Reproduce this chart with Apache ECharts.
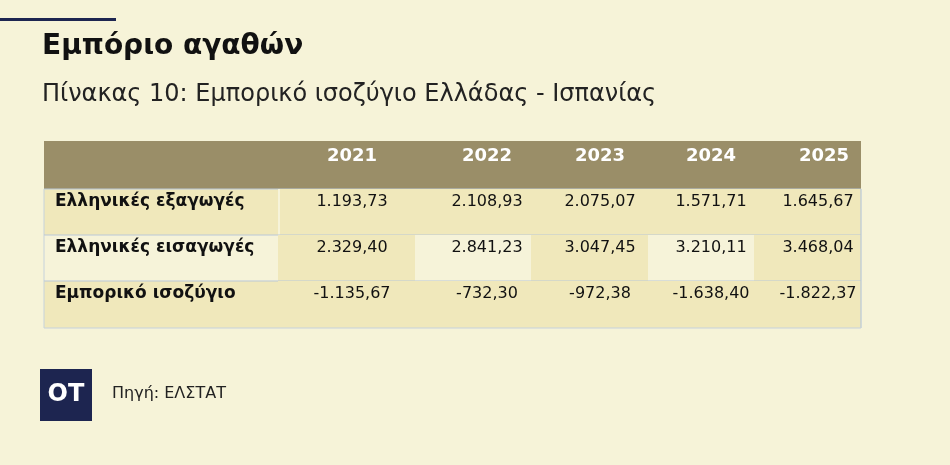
<!DOCTYPE html><html><head><meta charset="utf-8"><script src="https://cdn.jsdelivr.net/npm/echarts@6/dist/echarts.min.js"></script>
<style>html,body{margin:0;background:#f6f3d8}#c{width:950px;height:465px}</style></head><body><div id="c"></div><script>
const years=['2021','2022','2023','2024','2025'];
const rowLabels=['Ελληνικές εξαγωγές','Ελληνικές εισαγωγές','Εμπορικό ισοζύγιο'];
const exportsV=['1.193,73','2.108,93','2.075,07','1.571,71','1.645,67'];
const importsV=['2.329,40','2.841,23','3.047,45','3.210,11','3.468,04'];
const balanceV=['-1.135,67','-732,30','-972,38','-1.638,40','-1.822,37'];
const rows=[exportsV,importsV,balanceV];
// layout (pixels relative to table)
const edges=[0,234,371,487,604,710,817];
const centers=[308,443,556,667,774];
const rowTops=[0,48,94,140,187];
const DARK='#f0e8bb',LIGHT='#f6f3d9',HEAD='#9a8e68';
const F='"DejaVu Sans",sans-serif';
const data=[];
data.push({type:'head'});
rows.forEach((r,ri)=>{data.push({type:'label',r:ri});r.forEach((v,ci)=>data.push({type:'cell',r:ri,c:ci}));});
const ch=echarts.init(document.getElementById('c'));
ch.setOption({backgroundColor:'#f6f3d8',animation:false,
grid:{left:44,top:141,width:817,height:187},
xAxis:{type:'value',min:0,max:817,show:false},
yAxis:{type:'value',min:0,max:187,inverse:true,show:false},
series:[{type:'custom',data:data.map((d,i)=>i),renderItem:(p,api)=>{
 const d=data[api.value(0)];
 const P=(x,y)=>api.coord([x,y]);
 if(d.type==='head'){
  const a=P(0,0),b=P(817,48);
  const ch=[{type:'rect',shape:{x:a[0],y:a[1],width:b[0]-a[0],height:b[1]-a[1]},style:{fill:HEAD}}];
  years.forEach((y,i)=>{const q=P(centers[i]+(i==4?6:0),15);ch.push({type:'text',style:{text:y,x:q[0],y:q[1],fill:'#fff',font:'bold 18px '+F,align:'center',verticalAlign:'middle'}});});
  return {type:'group',children:ch};
 }
 const t=rowTops[d.r+1],bt=rowTops[d.r+2];
 if(d.type==='label'){
  const a=P(0,t),b=P(edges[1],bt);
  const q=P(11,t+13);
  const ch=[
   {type:'rect',shape:{x:a[0],y:a[1],width:b[0]-a[0],height:b[1]-a[1]},style:{fill:d.r==1?LIGHT:DARK}},
   {type:'line',shape:{x1:a[0],y1:a[1],x2:P(817,t)[0],y2:a[1]},style:{stroke:'#b9c8d8',lineWidth:1.2}},
   {type:'line',shape:{x1:a[0],y1:a[1],x2:a[0],y2:b[1]},style:{stroke:'#c6d2dc',lineWidth:1}},
   {type:'text',style:{text:rowLabels[d.r],x:q[0],y:q[1],fill:'#111',font:'bold 17px '+F,verticalAlign:'middle'}}];
  if(d.r==2) ch.push({type:'line',shape:{x1:a[0],y1:b[1],x2:b[0],y2:b[1]},style:{stroke:'#c6d2dc',lineWidth:1}});
  return {type:'group',children:ch};
 }
 const c=d.c;
 const a=P(edges[c+1],t),b=P(edges[c+2],bt);
 const fill=d.r==1?(c%2==0?DARK:LIGHT):DARK;
 const q=P(centers[c],t+13);
 const ch=[{type:'rect',shape:{x:a[0],y:a[1],width:b[0]-a[0],height:b[1]-a[1]},style:{fill:fill}},
  {type:'text',style:{text:rows[d.r][c],x:q[0],y:q[1],fill:'#111',font:'16px '+F,align:'center',verticalAlign:'middle'}}];
 if(c==4) ch.push({type:'line',shape:{x1:b[0],y1:a[1],x2:b[0],y2:b[1]},style:{stroke:'#b9c8d8',lineWidth:1.2}});
 if(d.r==0&&c==0) ch.push({type:'line',shape:{x1:a[0]+1,y1:a[1],x2:a[0]+1,y2:b[1]},style:{stroke:LIGHT,lineWidth:2}});
 if(d.r==2) ch.push({type:'line',shape:{x1:a[0],y1:b[1],x2:b[0],y2:b[1]},style:{stroke:'#c6d2dc',lineWidth:1}});
 return {type:'group',children:ch};
}}],
graphic:[
 {type:'rect',shape:{x:0,y:18,width:116,height:3},style:{fill:'#1d2550'}},
 {type:'text',left:42,top:33,style:{text:'Εμπόριο αγαθών',font:'bold 28px '+F,fill:'#111'}},
 {type:'text',left:42,top:83,style:{text:'Πίνακας 10: Εμπορικό ισοζύγιο Ελλάδας - Ισπανίας',font:'24px '+F,fill:'#222'}},
 {type:'rect',shape:{x:40,y:369,width:52,height:52},style:{fill:'#1d2550'}},
 {type:'text',x:66,y:395,style:{text:'OT',font:'bold 24px '+F,fill:'#fff',align:'center',verticalAlign:'middle'}},
 {type:'text',left:112,top:386,style:{text:'Πηγή: ΕΛΣΤΑΤ',font:'16px '+F,fill:'#222'}}
]});
</script></body></html>
